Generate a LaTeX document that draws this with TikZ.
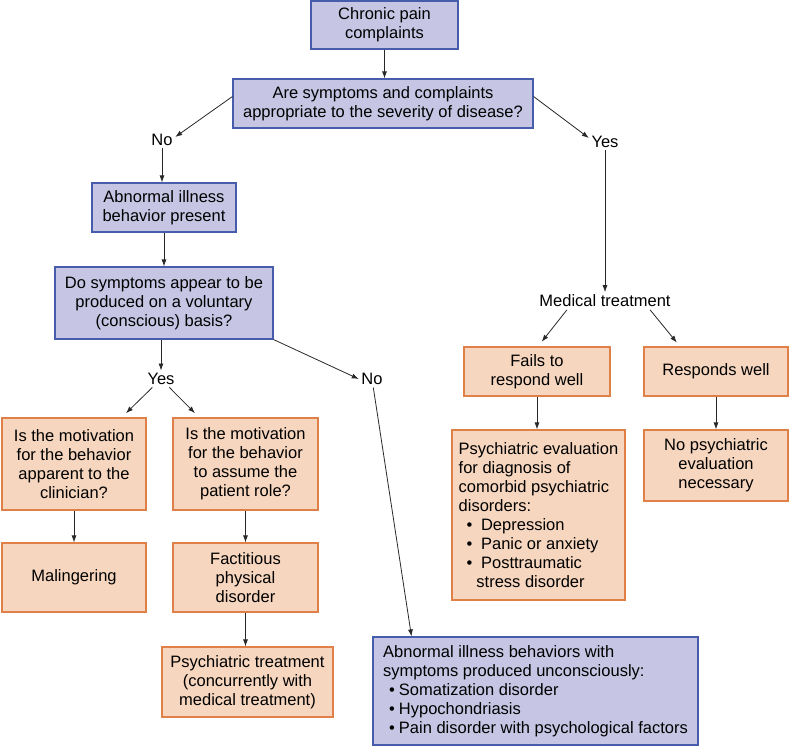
\documentclass[tikz,border=0pt]{standalone}
\usepackage{fontspec}
\setmainfont{Liberation Sans}
\usepackage{tikz}
\usetikzlibrary{positioning,arrows.meta}
\definecolor{boxblue}{RGB}{198,198,228}
\definecolor{lineblue}{RGB}{72,92,172}
\definecolor{boxpeach}{RGB}{246,214,190}
\definecolor{linepeach}{RGB}{222,128,72}
\definecolor{flowgray}{RGB}{40,40,40}
\newcommand{\blt}[1][6pt]{\hspace*{#1}\textbullet\hspace{4pt}}
\tikzset{
  bbox/.style  = {draw=lineblue, fill=boxblue, line width=1.1pt, align=center, inner sep=0pt},
  obox/.style  = {draw=linepeach, fill=boxpeach, line width=1.1pt, align=center, inner sep=0pt},
  wh/.style 2 args = {minimum width=#1pt, minimum height=#2pt},
  lbl/.style   = {inner sep=2.5pt},
  flow/.style  = {-{Latex[length=7pt,width=5pt]}, line width=0.8pt, draw=flowgray},
}
\begin{document}
\begin{tikzpicture}[x=1pt, y=-1pt, font=\fontsize{16.5}{19}\selectfont]
  \useasboundingbox (0,0) rectangle (790,751);
  % left branch
  \node[bbox, wh={147}{48}] (cpc) at (384.5,25) {Chronic pain\\complaints};
  \node[bbox, wh={300}{49}] (q1) at (383,103.5) {Are symptoms and complaints\\appropriate to the severity of disease?};
  \node[lbl] (no1) at (162,140) {No};
  \node[lbl] (yes1) at (605,142) {Yes};
  \node[bbox, wh={144}{49}] (abn) at (164,207.5) {Abnormal illness\\behavior present};
  \node[bbox, wh={218}{72}] (q2) at (164,303) {Do symptoms appear to be\\produced on a voluntary\\(conscious) basis?};
  \node[lbl] (yes2) at (161,379) {Yes};
  \node[lbl] (no2) at (372,379) {No};
  \node[obox, wh={144}{92}] (mot1) at (74,464) {Is the motivation\\for the behavior\\apparent to the\\clinician?};
  \node[obox, wh={145}{92}] (mot2) at (245.5,464) {Is the motivation\\for the behavior\\to assume the\\patient role?};
  \node[obox, wh={144}{69}] (mal) at (74,577.5) {Malingering};
  \node[obox, wh={145}{69}] (fact) at (245.5,577.5) {Factitious\\physical\\disorder};
  \node[obox, wh={171}{70}] (ptx) at (247.5,682) {Psychiatric treatment\\(concurrently with\\medical treatment)};
  \node[bbox, wh={325}{108}, align=left] (unc) at (535.5,691) {Abnormal illness behaviors with\\
    symptoms produced unconsciously:\\ \blt Somatization disorder\\ \blt Hypochondriasis\\
    \blt Pain disorder with psychological factors};
  % right branch
  \node[lbl] (med) at (605,301) {Medical treatment};
  \node[obox, wh={146}{49}] (fail) at (537,371.5) {Fails to\\respond well};
  \node[obox, wh={144}{49}] (resp) at (716,371.5) {Responds well};
  \node[obox, wh={173}{170}, align=left] (peval) at (538.5,515) {Psychiatric evaluation\\
    for diagnosis of\\ comorbid psychiatric\\ disorders:\\ \blt[8pt] Depression\\
    \blt[8pt] Panic or anxiety\\ \blt[8pt] Posttraumatic\\ \hphantom{\blt[8pt]}stress disorder};
  \node[obox, wh={144}{71}] (noeval) at (716,465.5) {No psychiatric\\evaluation\\necessary};

  \draw[flow] (cpc.south) -- (cpc.south |- q1.north);
  \draw[flow] ([yshift=7pt]q1.west) -- ([yshift=3pt]no1.east);
  \draw[flow] ([yshift=7pt]q1.east) -- ([yshift=4pt]yes1.west);
  \draw[flow] (no1) -- (no1 |- abn.north);
  \draw[flow] (abn.south) -- (q2.north);
  \draw[flow] (q2.south -| yes2) -- (yes2);
  \draw[flow, shorten >=6pt] (yes2) -- (mot1);
  \draw[flow, shorten >=6pt] (yes2) -- (mot2);
  \draw[flow] (q2.south east) -- (no2.west);
  \draw[flow] (no2) -- ([xshift=-124pt]unc.north);
  \draw[flow] (mot1) -- (mal);
  \draw[flow] (mot2) -- (fact);
  \draw[flow] (fact.south) -- (fact.south |- ptx.north);
  \draw[flow] (yes1) -- (yes1 |- med.north);
  \draw[flow, shorten >=6pt] ([xshift=-38pt]med.south) -- ([xshift=1pt]fail.north);
  \draw[flow, shorten >=5pt] ([xshift=45pt]med.south) -- ([xshift=-36pt]resp.north);
  \draw[flow] (fail.south) -- (fail.south |- peval.north);
  \draw[flow] (resp) -- (noeval);
\end{tikzpicture}
\end{document}
